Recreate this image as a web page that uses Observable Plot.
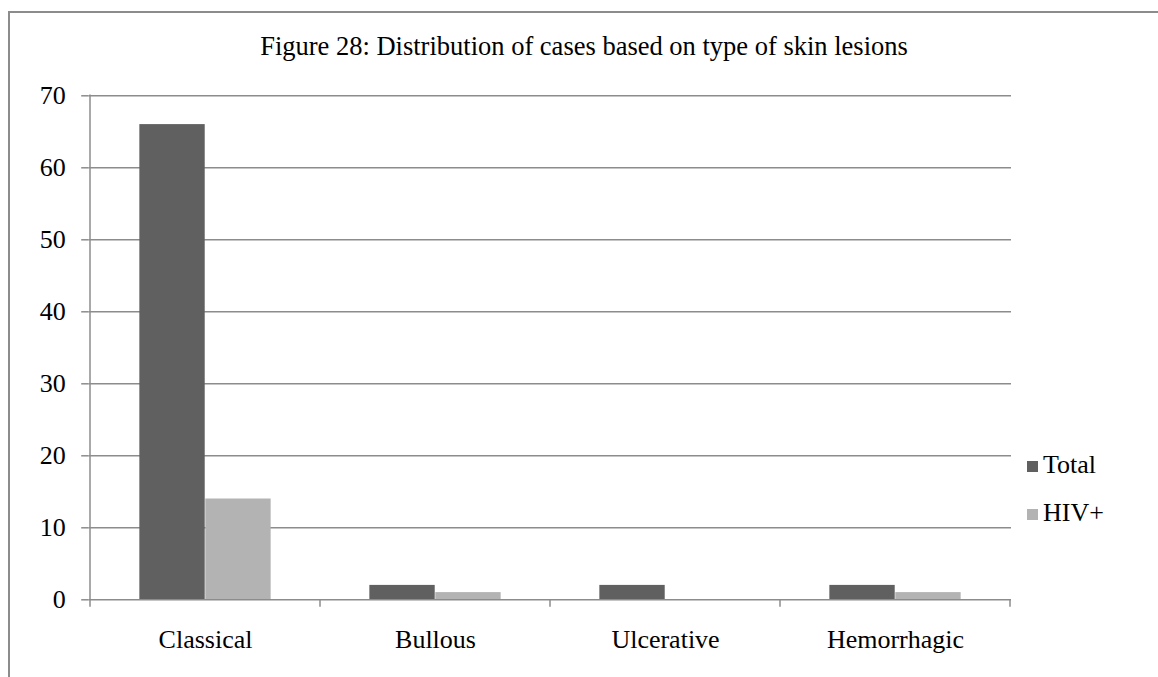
<!DOCTYPE html>
<html>
<head>
<meta charset="utf-8">
<script src="https://cdn.jsdelivr.net/npm/d3@7"></script>
<script src="https://cdn.jsdelivr.net/npm/@observablehq/plot@0.6"></script>
<style>
  html, body { margin: 0; padding: 0; background: #fff; overflow: hidden; }
  #wrap { position: relative; width: 1158px; height: 677px; font-family: "Liberation Serif", "Times New Roman", serif; color: #000; }
  #wrap svg { position: absolute; left: 0; top: 0; }
  #border { position: absolute; left: 7.5px; top: 11px; width: 3000px; height: 3000px; border: 2px solid #8c8c8c; box-sizing: border-box; pointer-events: none; }
  #title { position: absolute; left: 10px; width: 1148px; top: 32.6px; text-align: center; font-size: 26.5px; line-height: 26.5px; white-space: nowrap; }
  .legend-item { position: absolute; left: 1027px; font-size: 26px; line-height: 26px; white-space: nowrap; }
  .legend-item .sw { display: inline-block; width: 11px; height: 11px; margin-right: 5px; vertical-align: 1px; }
</style>
</head>
<body>
<div id="wrap">
  <div id="title">Figure 28: Distribution of cases based on type of skin lesions</div>
</div>
<script>
// Lesion types and case counts
const categories = ["Classical", "Bullous", "Ulcerative", "Hemorrhagic"];
const totalCases = [66, 2, 2, 2];
const hivCases = [14, 1, 0, 1];
const seriesNames = ["Total", "HIV+"];
const seriesColors = ["#606060", "#b3b3b3"];
const yTicks = [0, 10, 20, 30, 40, 50, 60, 70];

const rows = categories.flatMap((c, i) => [
  {category: c, series: seriesNames[0], value: totalCases[i]},
  {category: c, series: seriesNames[1], value: hivCases[i]}
]);

const W = 1158, H = 677;
const mL = 88.7, mR = 147, mT = 95.3, mB = 77.7;
const step = (W - mL - mR) / categories.length;
const gridColor = "#8c8c8c";

// Boundary ticks under each category and the vertical value axis line
function categoryEdges(index, scales) {
  const x = scales.x, y = scales.y;
  const bw = x.bandwidth ? x.bandwidth() : step;
  const edges = categories.map((c) => x(c)).concat([x(categories[categories.length - 1]) + bw]);
  const y0 = y(0);
  const g = d3.create("svg:g").attr("stroke", gridColor).attr("stroke-width", 1.5);
  for (const e of edges) {
    g.append("line").attr("x1", e).attr("x2", e).attr("y1", y0).attr("y2", y0 + 7.5);
  }
  g.append("line").attr("x1", edges[0]).attr("x2", edges[0]).attr("y1", y(70) - 0.75).attr("y2", y0);
  return g.node();
}

const chart = Plot.plot({
  width: W,
  height: H,
  marginLeft: mL,
  marginRight: mR,
  marginTop: mT,
  marginBottom: mB,
  style: {fontFamily: "'Liberation Serif', 'Times New Roman', serif", fontSize: "26px", background: "none", color: "#000", overflow: "visible"},
  x: {domain: categories, padding: 0, axis: null},
  y: {domain: [0, 70], axis: null},
  marks: [
    Plot.ruleY(yTicks.filter((d) => d > 0), {stroke: gridColor, strokeWidth: 1.5}),
    Plot.barY(rows.filter((d) => d.series === seriesNames[0]), {
      x: "category", y: "value", fill: seriesColors[0],
      insetLeft: step * 0.214, insetRight: step * 0.5
    }),
    Plot.barY(rows.filter((d) => d.series === seriesNames[1]), {
      x: "category", y: "value", fill: seriesColors[1],
      insetLeft: step * 0.5, insetRight: step * 0.214
    }),
    Plot.ruleY([0], {stroke: gridColor, strokeWidth: 1.5}),
    Plot.axisY(yTicks, {tickSize: 7.5, tickPadding: 16, stroke: gridColor, strokeWidth: 1.5, fill: "#000", tickFormat: (d) => String(d), label: null}),
    Plot.axisX({tickSize: 0, tickPadding: 30, fill: "#000", label: null}),
    categoryEdges
  ]
});

const wrap = document.getElementById("wrap");
wrap.insertBefore(chart, wrap.firstChild);

// Legend entries
seriesNames.forEach((name, i) => {
  const item = document.createElement("div");
  item.className = "legend-item";
  item.style.top = (452 + i * 48) + "px";
  const sw = document.createElement("span");
  sw.className = "sw";
  sw.style.background = seriesColors[i];
  item.appendChild(sw);
  item.appendChild(document.createTextNode(name));
  wrap.appendChild(item);
});

const border = document.createElement("div");
border.id = "border";
wrap.appendChild(border);
</script>
</body>
</html>
